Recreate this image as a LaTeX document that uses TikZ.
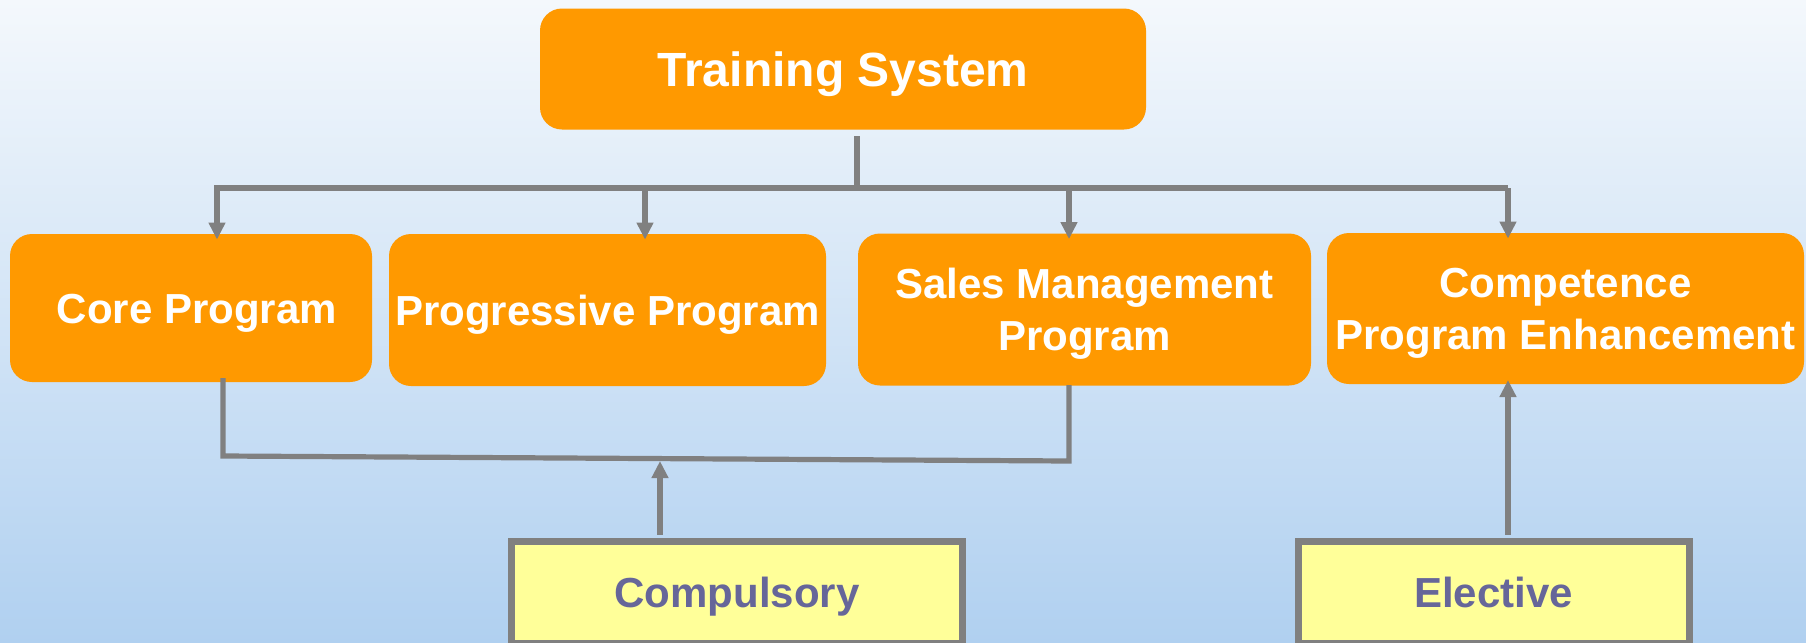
\documentclass[tikz,border=0pt]{standalone}
\usepackage{fontspec}
\setmainfont{Liberation Sans}
\usetikzlibrary{arrows.meta}
\definecolor{bgtop}{RGB}{244,248,252}
\definecolor{bgbot}{RGB}{176,208,240}
\definecolor{boxorange}{RGB}{255,153,0}
\definecolor{linegray}{RGB}{128,128,128}
\definecolor{paleyellow}{RGB}{255,255,153}
\definecolor{slatetext}{RGB}{102,102,153}
\tikzset{
  progbox/.style={fill=boxorange, draw=none, rounded corners=11pt, text=white,
    font=\fontsize{21}{26}\selectfont\bfseries, align=center, inner sep=2pt},
  oneline/.style={text height=15.1pt, text depth=0pt},
  kindbox/.style={fill=paleyellow, draw=linegray, line width=3.5pt, text=slatetext,
    font=\fontsize{21}{26}\selectfont\bfseries, align=center, inner sep=2pt,
    text height=15.1pt, text depth=0pt},
  conn/.style={draw=linegray, line width=2.6pt, line join=miter},
  arr/.style={conn, -{Triangle[width=8pt,length=8.5pt]}}
}
\begin{document}
\begin{tikzpicture}[x=0.5pt,y=-0.5pt]
\useasboundingbox (0,0) rectangle (1806,643);
\clip (0,0) rectangle (1806,643);
\shade[top color=bgtop, bottom color=bgbot] (0,0) rectangle (1806,643);

% nodes
\node[progbox, minimum width=303pt, minimum height=60.5pt, font=\fontsize{24}{28}\selectfont\bfseries, text height=17.3pt, text depth=0pt] (ts) at (843,69) {Training System};
\node[progbox, oneline, minimum width=181pt, minimum height=74pt] (core) at (191,308) {\hspace{6pt}Core Program};
\node[progbox, oneline, minimum width=218.5pt, minimum height=76pt] (prog) at (607.5,310) {Progressive Program};
\node[progbox, minimum width=226.5pt, minimum height=76pt] (sales) at (1084.5,309.5) {Sales Management\\\smash{Program}};
\node[progbox, minimum width=238.5pt, minimum height=75.5pt] (comp) at (1565.5,308.5) {Competence\\\smash{Program Enhancement}};
\node[kindbox, minimum width=225.5pt, minimum height=51pt] (cmp) at (737,592.5) {Compulsory};
\node[kindbox, minimum width=195.5pt, minimum height=51pt] (ele) at (1493.5,592.5) {Elective};

% top tree
\coordinate (st) at (857,136);
\coordinate (sb) at (857,188);
\coordinate (bl) at (214,188);
\coordinate (br) at (1508,188);
\coordinate (b1) at (217,188);
\coordinate (b2) at (645,188);
\coordinate (b3) at (1069,188);
\coordinate (b4) at (1508,188);
\draw[conn] (st) -- (sb);
\draw[conn] (bl) -- (br);
\draw[arr] (b1) -- ([yshift=-3pt]b1 |- core.north);
\draw[arr] (b2) -- ([yshift=-3pt]b2 |- prog.north);
\draw[arr] (b3) -- ([yshift=-3pt]b3 |- sales.north);
\draw[arr] (b4) -- ([yshift=-3pt]b4 |- comp.north);

% bottom connector
\coordinate (c1) at (223,378);
\coordinate (c2) at (223,456);
\coordinate (c3) at (1069,461);
\coordinate (c4) at (1069,385);
\draw[conn] (c1) -- (c2) -- (c3) -- (c4);
\coordinate (ca) at (660,461);
\draw[arr] ([yshift=1.75pt]cmp.north -| ca) -- (ca);
\coordinate (ea) at (1508,380);
\draw[arr] ([yshift=1.75pt]ele.north -| ea) -- (ea);
\end{tikzpicture}
\end{document}
